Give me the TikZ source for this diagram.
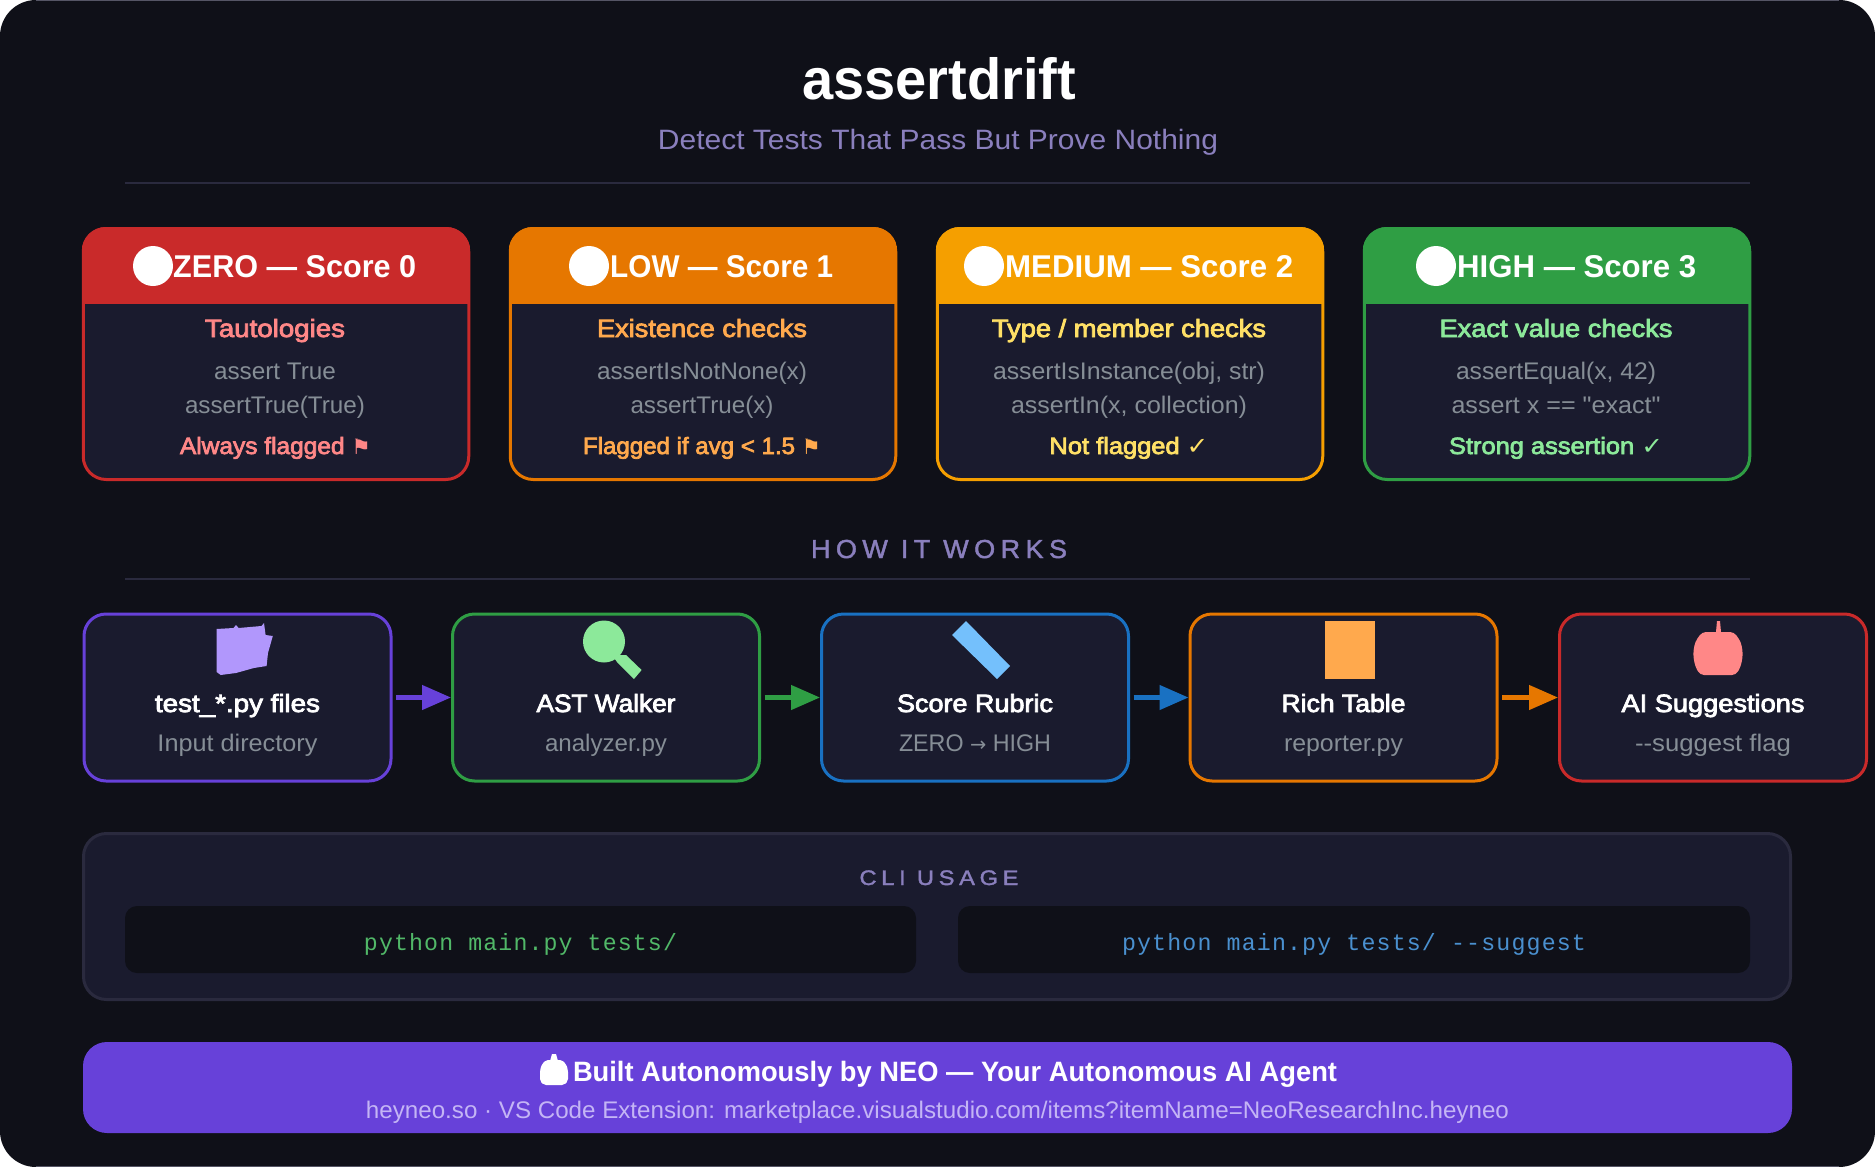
\documentclass[tikz,border=0pt]{standalone}
\usepackage{fontspec}
\usepackage{graphicx}
\usetikzlibrary{arrows.meta}
\newfontfamily\ui{Liberation Sans}
\newfontfamily\semi[FakeBold=3]{Liberation Sans}
\newfontfamily\uispaced[LetterSpace=20,FakeBold=1.6]{Liberation Sans}
\newfontfamily\mono[LetterSpace=5]{Liberation Mono}
\newfontfamily\sym{DejaVu Sans}
\definecolor{bgdark}{HTML}{0F1018}
\definecolor{panel}{HTML}{1A1B2E}
\definecolor{rulec}{HTML}{2A2A3E}
\definecolor{cred}{HTML}{C92A2A}
\definecolor{corange}{HTML}{E67700}
\definecolor{cyellow}{HTML}{F59F00}
\definecolor{cgreen}{HTML}{2F9E44}
\definecolor{cblue}{HTML}{1971C2}
\definecolor{cpurple}{HTML}{6741D9}
\definecolor{lred}{HTML}{FF8787}
\definecolor{lorange}{HTML}{FFA94D}
\definecolor{lyellow}{HTML}{FFE066}
\definecolor{lgreen}{HTML}{8CE99A}
\definecolor{lblue}{HTML}{74C0FC}
\definecolor{lpurple}{HTML}{B197FC}
\definecolor{greytxt}{HTML}{868E96}
\definecolor{subtxt}{HTML}{8A7FBD}
\definecolor{bannersub}{HTML}{C4B5F5}
\definecolor{cligreen}{HTML}{51B868}
\definecolor{cliblue}{HTML}{4A90CF}
\newcommand{\fw}[2]{\resizebox{#1pt}{\height}{#2}}
\newcommand{\fs}[1]{\fontsize{#1}{#1}\selectfont}
\newcommand{\flagg}{{\sym\fontsize{21}{21}\selectfont\symbol{"2691}}}
\newcommand{\chk}{{\sym\bfseries\fontsize{24}{24}\selectfont\symbol{"2713}}}
\newcommand{\arr}{{\sym\fontsize{20}{20}\selectfont\symbol{"2192}}}
\tikzset{
  txt/.style={anchor=base,inner sep=0pt,outer sep=0pt},
  cardbox/.style={draw=#1,fill=panel,line width=3pt,rounded corners=23pt,minimum width=385.5pt,minimum height=251pt,inner sep=0pt},
  stepbox/.style={draw=#1,fill=panel,line width=3pt,rounded corners=22pt,minimum width=307pt,minimum height=167pt,inner sep=0pt},
  flow/.style={draw=#1,line width=4.5pt,-{Triangle[length=29pt,width=24pt,fill=#1]},shorten <=3.5pt},
  headtxt/.style={anchor=base west,inner sep=0pt,text=white,font=\ui\bfseries\fs{31.5}},
  kind/.style={txt,text=#1,font=\semi\fs{25}},
  codetxt/.style={txt,text=greytxt,font=\ui\fs{24}},
  verdict/.style={txt,text=#1,font=\semi\fs{23.5}},
  stepname/.style={txt,text=white,font=\semi\fs{25}},
  stepsub/.style={txt,text=greytxt,font=\ui\fs{24}},
  section/.style={txt,text=subtxt},
  clitxt/.style={txt,text=#1,font=\mono\fs{23.5}},
  rulel/.style={draw=rulec,line width=2pt},
}
\newcommand{\card}[4]{% name, center x, border, circle x
  \node[cardbox=#3] (#1) at (#2,354) {};
  \begin{scope}
    \clip[rounded corners=24pt] (#1.north west) rectangle (#1.south east);
    \fill[#3] (#1.north west) rectangle (#1.east |- 0,304);
  \end{scope}
  \fill[white] (#4,266) circle (20);
}
\begin{document}
\begin{tikzpicture}[x=1pt,y=-1pt]
\useasboundingbox (0,0) rectangle (1875,1167);
\fill[white] (0,0) rectangle (1875,1167);
\fill[bgdark,rounded corners=36pt] (0,0) rectangle (1875,1167);
\coordinate (ta) at (36,0.5); \coordinate (tb) at (1839,0.5);
\coordinate (ba) at (36,1166.5); \coordinate (bb) at (1839,1166.5);
\draw[rulec!80!white,line width=1pt] (ta) -- (tb);
\draw[rulec!80!white,line width=1pt] (ba) -- (bb);

% title
\node[txt,text=white,font=\ui\bfseries\fs{58}] (title) at (939,99) {\fw{274}{assertdrift}};
\node[txt,text=subtxt,font=\ui\fs{28}] (subtitle) at (938,149) {\fw{560}{Detect Tests That Pass But Prove Nothing}};
\coordinate (r1a) at (125,183); \coordinate (r1b) at (1750,183);
\draw[rulel] (r1a) -- (r1b);

% score cards
\card{c1}{276}{cred}{153}
\card{c2}{703}{corange}{589}
\card{c3}{1130}{cyellow}{984}
\card{c4}{1557}{cgreen}{1436}

\node[headtxt] (h1) at (173,277) {\fw{243}{ZERO — Score 0}};
\node[headtxt] (h2) at (610,277) {\fw{223}{LOW — Score 1}};
\node[headtxt] (h3) at (1005,277) {\fw{288}{MEDIUM — Score 2}};
\node[headtxt] (h4) at (1457,277) {\fw{239}{HIGH — Score 3}};

\node[kind=lred] (k1) at (275,337) {\fw{140}{Tautologies}};
\node[codetxt] (a1) at (275,379) {\fw{122}{assert True}};
\node[codetxt] (b1) at (275,413) {\fw{180}{assertTrue(True)}};
\node[verdict=lred] (v1) at (275.5,454) {\fw{191}{Always flagged \flagg}};

\node[kind=lorange] (k2) at (702,337) {\fw{210}{Existence checks}};
\node[codetxt] (a2) at (702,379) {\fw{210}{assertIsNotNone(x)}};
\node[codetxt] (b2) at (702,413) {\fw{143}{assertTrue(x)}};
\node[verdict=lorange] (v2) at (702,454) {\fw{238}{Flagged if avg < 1.5 \flagg}};

\node[kind=lyellow] (k3) at (1129,337) {\fw{274}{Type / member checks}};
\node[codetxt] (a3) at (1129,379) {\fw{272}{assertIsInstance(obj, str)}};
\node[codetxt] (b3) at (1129,413) {\fw{236}{assertIn(x, collection)}};
\node[verdict=lyellow] (v3) at (1129,454) {\fw{159}{Not flagged \chk}};

\node[kind=lgreen] (k4) at (1556,337) {\fw{233}{Exact value checks}};
\node[codetxt] (a4) at (1556,379) {\fw{200}{assertEqual(x, 42)}};
\node[codetxt] (b4) at (1556,413) {\fw{209}{assert x == "exact"}};
\node[verdict=lgreen] (v4) at (1556,454) {\fw{214}{Strong assertion \chk}};

% how it works
\node[section,font=\uispaced\fs{26}] (how) at (939,558) {\fw{256}{HOW IT WORKS}};
\coordinate (r2a) at (125,579); \coordinate (r2b) at (1750,579);
\draw[rulel] (r2a) -- (r2b);

\node[stepbox=cpurple] (s1) at (237.5,697.5) {};
\node[stepbox=cgreen]  (s2) at (606,697.5) {};
\node[stepbox=cblue]   (s3) at (975,697.5) {};
\node[stepbox=corange] (s4) at (1343.5,697.5) {};
\node[stepbox=cred]    (s5) at (1713,697.5) {};
\draw[flow=cpurple] (s1) -- (s2);
\draw[flow=cgreen]  (s2) -- (s3);
\draw[flow=cblue]   (s3) -- (s4);
\draw[flow=corange] (s4) -- (s5);

% step icons
\fill[lpurple] (216.6,629) -- (233.5,628) -- (236,625) -- (238.6,628) -- (261.5,626) -- (264,623) -- (265.6,635) -- (272.8,636) -- (268,653) -- (266.6,666) -- (253.9,668) -- (236,673) -- (220.7,675) -- (216.6,672) -- cycle;
\fill[lgreen] (604,641.5) ellipse (21 and 21);
\fill[lgreen] (612,655) -- (626,655) -- (641.6,670) -- (634,679) -- (617,662) -- cycle;
\fill[lblue] (952,635) -- (966,621) -- (1010,666) -- (997,679) -- cycle;
\fill[lorange] (1325,621) rectangle (1375,679);
\fill[lred,rounded corners=4pt] (1702,632) -- (1734,632) -- (1741,642) -- (1743,654) -- (1741,666) -- (1736,675) -- (1700,675) -- (1695,666) -- (1693,654) -- (1695,642) -- cycle;
\fill[lred] (1712,636) -- (1716,632) -- (1717,621) -- (1720,621) -- (1721,632) -- (1725,636) -- cycle;

\node[stepname] (n1) at (237.5,712) {\fw{165}{test\_*.py files}};
\node[stepname] (n2) at (606,712) {\fw{139}{AST Walker}};
\node[stepname] (n3) at (975,712) {\fw{156}{Score Rubric}};
\node[stepname] (n4) at (1343.5,712) {\fw{124}{Rich Table}};
\node[stepname] (n5) at (1713,712) {\fw{183}{AI Suggestions}};
\node[stepsub] (u1) at (237.5,751) {\fw{160}{Input directory}};
\node[stepsub] (u2) at (606,751) {\fw{122}{analyzer.py}};
\node[stepsub] (u3) at (975,751) {\fw{152}{ZERO \arr{} HIGH}};
\node[stepsub] (u4) at (1343.5,751) {\fw{119}{reporter.py}};
\node[stepsub] (u5) at (1713,751) {\fw{156}{--suggest flag}};

% CLI panel
\node[draw=rulec,fill=panel,line width=3pt,rounded corners=23pt,minimum width=1707pt,minimum height=166pt,inner sep=0pt] (cli) at (937,916.5) {};
\node[section,font=\uispaced\fs{21}] (clih) at (939,885) {\fw{159}{CLI USAGE}};
\node[fill=bgdark,rounded corners=12pt,minimum width=791pt,minimum height=67pt,inner sep=0pt] (p1) at (520.5,939.5) {};
\node[fill=bgdark,rounded corners=12pt,minimum width=792pt,minimum height=67pt,inner sep=0pt] (p2) at (1354,939.5) {};
\node[clitxt=cligreen] (m1) at (520.5,950) {\fw{313}{python main.py tests/}};
\node[clitxt=cliblue] (m2) at (1354,950) {\fw{464}{python main.py tests/ --suggest}};

% banner
\node[fill=cpurple,rounded corners=24pt,minimum width=1709pt,minimum height=91pt,inner sep=0pt] (banner) at (937.5,1087.5) {};
\fill[white,rounded corners=2pt] (546,1060) -- (562,1060) -- (566,1064) -- (568,1070) -- (568,1081) -- (564,1085) -- (544,1085) -- (540,1081) -- (540,1070) -- (542,1064) -- cycle;
\fill[white] (550,1061) -- (552,1054) -- (556,1054) -- (558,1061) -- cycle;
\node[txt,text=white,font=\ui\bfseries\fs{28}] (bt) at (955,1081) {\fw{764}{Built Autonomously by NEO — Your Autonomous AI Agent}};
\node[txt,text=bannersub,font=\ui\fs{24}] (bs) at (937.5,1118) {\fw{1143}{heyneo.so · VS Code Extension: marketplace.visualstudio.com/items?itemName=NeoResearchInc.heyneo}};
\end{tikzpicture}
\end{document}
